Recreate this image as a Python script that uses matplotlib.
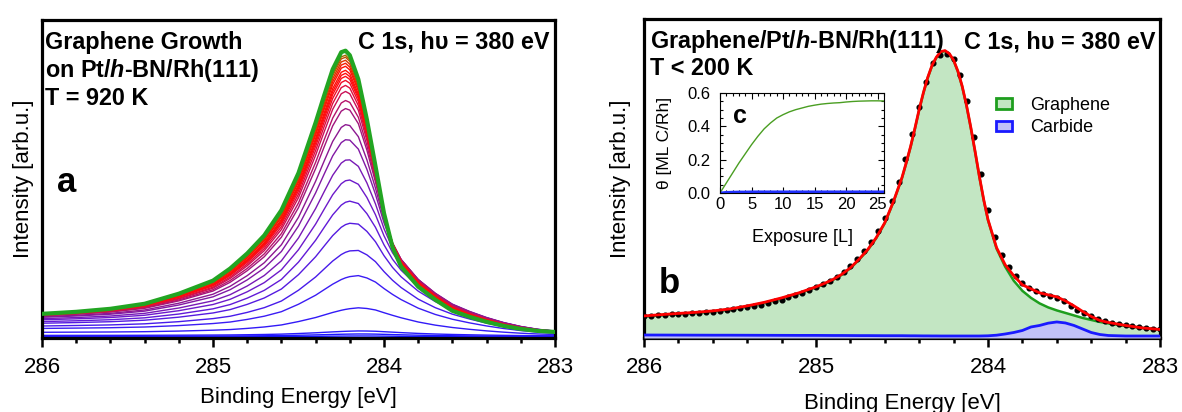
import numpy as np
import matplotlib
matplotlib.use('Agg')
import matplotlib.pyplot as plt
from matplotlib.colors import LinearSegmentedColormap
from matplotlib.patches import Patch
from matplotlib.ticker import MultipleLocator, FormatStrFormatter

plt.rcParams['font.family'] = ['Liberation Sans', 'DejaVu Sans']
plt.rcParams['mathtext.fontset'] = 'custom'
plt.rcParams['mathtext.rm'] = 'Liberation Sans'
plt.rcParams['mathtext.it'] = 'Liberation Sans:italic'
plt.rcParams['mathtext.bf'] = 'Liberation Sans:bold'
plt.rcParams['mathtext.bfit'] = 'Liberation Sans:bold:italic'

# ---------------- Panel a data (growth series) ----------------
energy_a = [286.0, 285.8, 285.6, 285.4, 285.2, 285.0, 284.9, 284.8, 284.7, 284.6,
            284.5, 284.4, 284.35, 284.3, 284.25, 284.225, 284.2, 284.15, 284.1, 284.05,
            284.0, 283.95, 283.9, 283.8, 283.7, 283.6, 283.5, 283.4, 283.3, 283.2,
            283.1, 283.0]
# final (saturated) spectrum, green
final_spectrum = [24, 26, 29, 34, 44, 57, 69, 84, 102, 127,
                  164, 214, 241, 267, 284, 285.5, 281, 257, 217, 171,
                  124, 90, 71, 51, 38, 27, 21, 16, 12, 9,
                  7, 6]
# normalized line shape of the early (low coverage) spectra
early_shape = [0.12, 0.125, 0.13, 0.14, 0.16, 0.19, 0.21, 0.25, 0.30, 0.37,
               0.49, 0.63, 0.72, 0.81, 0.89, 0.925, 0.955, 1.0, 0.99, 0.95,
               0.86, 0.77, 0.68, 0.52, 0.40, 0.31, 0.24, 0.18, 0.13, 0.09,
               0.06, 0.04]
# peak heights and flat background of the intermediate spectra (bottom -> top)
peak_heights = [2, 4, 7, 30, 62, 87, 114, 136, 157, 177, 197, 212, 228,
                236, 245, 251, 256, 260, 263, 266, 270, 273, 276, 279, 281]
backgrounds = [1.0, 1.5, 2.0, 2.5, 3.0, 3.0, 3.5, 3.5, 4.0, 4.0, 4.5, 4.5, 5.0,
               5.0, 5.0, 5.0, 5.5, 5.5, 5.5, 5.5, 6.0, 6.0, 6.0, 6.0, 6.0]

# ---------------- Panel b data (fit) ----------------
energy_fit = [286.0, 285.9, 285.8, 285.7, 285.6, 285.5, 285.4, 285.3, 285.2, 285.1,
              285.0, 284.95, 284.9, 284.85, 284.8, 284.75, 284.7, 284.65, 284.6, 284.55,
              284.5, 284.475, 284.45, 284.425, 284.4, 284.375, 284.35, 284.325, 284.3, 284.275,
              284.25, 284.225, 284.2, 284.175, 284.15, 284.125, 284.1, 284.075, 284.05, 284.025,
              284.0, 283.95, 283.9, 283.85, 283.8, 283.75, 283.7, 283.65, 283.6, 283.55,
              283.5, 283.45, 283.4, 283.35, 283.3, 283.2, 283.1, 283.0]
fit_total = [22, 23.3, 24.5, 25.6, 27.0, 29.0, 32.0, 35.6, 40.0, 45.0,
             51.0, 54.5, 58.5, 63.5, 70, 78.5, 88, 100, 115, 136,
             160, 175, 191, 209, 228, 245, 260, 272, 280, 285.5,
             286.5, 283.5, 277, 266, 251, 232, 210, 186, 161, 138,
             118, 90, 73, 62, 53, 49, 45, 43, 41, 37,
             32, 26.5, 21.5, 17.5, 15.5, 12.5, 10, 8.5]
fit_graphene = [21.5, 22.8, 24.0, 25.1, 26.5, 28.5, 31.5, 35.1, 39.5, 44.5,
                50.5, 54.0, 58.0, 63.0, 69.5, 78.0, 87.5, 99.5, 114.5, 135.5,
                159.5, 174.5, 190.5, 208.5, 227.5, 244.5, 259.5, 271.5, 279.5, 285,
                286, 283, 276.5, 265.5, 250.5, 231.5, 209.5, 185.5, 160.5, 137.5,
                117.5, 89, 71, 57, 47, 40, 34.5, 30.5, 27.5, 25,
                22.5, 20, 18, 16, 14.5, 12, 10, 8.5]
fit_carbide = [3.0, 2.95, 2.9, 2.85, 2.8, 2.8, 2.75, 2.7, 2.65, 2.6,
               2.6, 2.55, 2.5, 2.5, 2.45, 2.4, 2.4, 2.35, 2.3, 2.3,
               2.3, 2.25, 2.2, 2.2, 2.15, 2.1, 2.1, 2.05, 2.05, 2.0,
               2.0, 2.0, 2.0, 2.0, 2.0, 2.0, 2.0, 2.0, 2.0, 2.1,
               2.2, 2.8, 4.0, 5.5, 7.5, 11, 12.5, 14.8, 16, 15,
               12.5, 9, 5.5, 3.5, 2.5, 2.0, 2.0, 2.0]
energy_data = [286.00, 285.96, 285.92, 285.88, 285.84, 285.80, 285.76, 285.72, 285.68, 285.64,
               285.60, 285.56, 285.52, 285.48, 285.44, 285.40, 285.36, 285.32, 285.28, 285.24,
               285.20, 285.16, 285.12, 285.08, 285.04, 285.00, 284.96, 284.92, 284.88, 284.84,
               284.80, 284.76, 284.72, 284.68, 284.64, 284.60, 284.56, 284.52, 284.48, 284.44,
               284.40, 284.36, 284.32, 284.28, 284.24, 284.20, 284.16, 284.12, 284.08, 284.04,
               284.00, 283.96, 283.92, 283.88, 283.84, 283.80, 283.76, 283.72, 283.68, 283.64,
               283.60, 283.56, 283.52, 283.48, 283.44, 283.40, 283.36, 283.32, 283.28, 283.24,
               283.20, 283.16, 283.12, 283.08, 283.04, 283.00]
intensity_data = [21.5, 22.0, 22.5, 23.4, 23.5, 24.0, 24.2, 24.8, 25.0, 25.6,
                  26.2, 26.8, 27.6, 28.5, 29.5, 30.6, 31.8, 33.2, 34.6, 36.4,
                  38.2, 40.4, 42.6, 45.0, 47.6, 50.4, 53.5, 57.0, 61.0, 66.0,
                  72.0, 79, 87, 96, 107, 120, 137, 156, 178, 203,
                  230, 255, 274, 282, 283, 278, 262, 236, 200, 163,
                  128, 101, 83, 71, 62, 55, 50, 46.5, 44, 42,
                  39.5, 36.5, 32, 28, 24.5, 21.5, 19, 16.8, 15, 13.8,
                  12.5, 11.5, 10.5, 9.8, 9.2, 8.8]

# ---------------- Panel c data (coverage vs exposure) ----------------
exposure = [0, 1, 2, 3, 4, 5, 6, 7, 8, 9, 10, 11, 12, 13, 14, 15, 16, 17, 18,
            19, 20, 21, 22, 23, 24, 25, 26]
theta_graphene = [0.0, 0.06, 0.12, 0.18, 0.235, 0.29, 0.34, 0.385, 0.42, 0.45,
                  0.47, 0.487, 0.50, 0.51, 0.52, 0.527, 0.533, 0.537, 0.54, 0.542,
                  0.546, 0.549, 0.551, 0.552, 0.553, 0.553, 0.552]
theta_carbide = [0.0, 0.004, 0.005, 0.006, 0.006, 0.007, 0.007, 0.007, 0.007, 0.007,
                 0.007, 0.007, 0.007, 0.007, 0.007, 0.007, 0.007, 0.007, 0.007, 0.007,
                 0.007, 0.007, 0.007, 0.007, 0.007, 0.007, 0.007]

x_ticks = [286, 285, 284, 283]

# ---------------- Figure ----------------
W, H = 1182, 412
fig = plt.figure(figsize=(W / 100, H / 100), dpi=100)


def px_box(l, t, r, b):
    return [l / W, 1 - b / H, (r - l) / W, (b - t) / H]


def ftext(x, y, s, **kw):
    fig.text(x / W, 1 - y / H, s, **kw)


def style_main(ax, ymax, labelpad):
    ax.set_xlim(286, 283)
    ax.set_ylim(0, ymax)
    ax.set_xticks(x_ticks)
    ax.set_xticklabels([str(t) for t in x_ticks])
    ax.xaxis.set_minor_locator(MultipleLocator(0.2))
    ax.set_yticks([])
    for s in ax.spines.values():
        s.set_linewidth(2.3)
    ax.tick_params(axis='x', which='major', direction='out', length=6.8, width=1.8,
                   labelsize=16, pad=7)
    ax.tick_params(axis='x', which='minor', direction='out', length=3.6, width=1.8)
    ax.set_xlabel('Binding Energy [eV]', fontsize=16, labelpad=labelpad)
    ax.set_ylabel('Intensity [arb.u.]', fontsize=16)


TFS = 16.8  # title font size

# ---- panel a ----
axa = fig.add_axes(px_box(42, 20, 555, 338))
E = np.array(energy_a)
G = np.array(final_spectrum, dtype=float)
final_shape = (G - G[-1]) / (G.max() - G[-1])
early = np.array(early_shape)
cmap = LinearSegmentedColormap.from_list(
    'growth', [(0.0, '#1414ff'), (0.16, '#3a1cf5'), (0.32, '#6a1ad0'),
               (0.46, '#8c1890'), (0.58, '#c81058'), (0.70, '#ff0a14'),
               (0.86, '#ff1000'), (0.93, '#d83c00'), (1.0, '#a06a00')])
n = len(peak_heights)
for i, (h, b) in enumerate(zip(peak_heights, backgrounds)):
    w = h / G.max()
    shape = (1 - w) * early + w * final_shape
    shape = shape / shape.max()
    axa.plot(E, b + (h - b) * shape, color=cmap(i / (n - 1)), lw=1.0, zorder=2 + i * 0.01)
axa.plot(E, G, color='#22a522', lw=3.0, zorder=3)
style_main(axa, 316, 6.5)
axa.yaxis.set_label_coords(-0.016, 0.5)

ftext(45, 49, 'Graphene Growth', fontsize=TFS, fontweight='bold', va='baseline')
ftext(45, 77, r'on Pt/$\mathbfit{h}$-BN/Rh(111)', fontsize=TFS, fontweight='bold', va='baseline')
ftext(45, 105, 'T = 920 K', fontsize=TFS, fontweight='bold', va='baseline')
ftext(549, 48, 'C 1s, h\u03c5 = 380 eV', fontsize=TFS, fontweight='bold', va='baseline', ha='right')
ftext(57, 192, 'a', fontsize=25, fontweight='bold', va='baseline')

# ---- inset c (drawn beneath panel b so data points overlap its labels) ----
axc = fig.add_axes(px_box(720, 93, 884, 193), zorder=0.5)
axc.plot(exposure, theta_graphene, color='#4a9e22', lw=1.0)
axc.plot(exposure, theta_carbide, color='#2030ff', lw=2.0)
axc.set_xlim(0, 26)
axc.set_ylim(0, 0.6)
axc.xaxis.set_major_locator(MultipleLocator(5))
axc.xaxis.set_minor_locator(MultipleLocator(1))
axc.yaxis.set_major_locator(MultipleLocator(0.2))
axc.yaxis.set_minor_locator(MultipleLocator(0.05))
axc.yaxis.set_major_formatter(FormatStrFormatter('%.1f'))
axc.tick_params(which='both', direction='in', top=True, right=True, width=0.8)
axc.tick_params(which='major', length=4, labelsize=12)
axc.tick_params(axis='y', which='major', pad=7)
axc.tick_params(axis='x', which='major', pad=3)
axc.tick_params(which='minor', length=2)
for s in axc.spines.values():
    s.set_linewidth(0.8)
axc.set_xlabel('Exposure [L]', fontsize=13, labelpad=12)
axc.set_ylabel('\u03b8 [ML C/Rh]', fontsize=12.5)
axc.yaxis.set_label_coords(-0.29, 0.5)
axc.text(0.08, 0.70, 'c', transform=axc.transAxes, fontsize=18, fontweight='bold')

# ---- panel b ----
axb = fig.add_axes(px_box(644, 19, 1160, 338), zorder=1)
axb.patch.set_alpha(0)
Ef = np.array(energy_fit)
axb.fill_between(Ef, 0, fit_graphene, color='#c3e6c3', lw=0, zorder=1)
axb.plot(Ef, fit_graphene, color='#1e9e1e', lw=1.8, zorder=2)
axb.fill_between(Ef, 0, fit_carbide, color='#c2c2f7', lw=0, zorder=3)
axb.plot(Ef, fit_carbide, color='#1a1aff', lw=2.0, zorder=4)
axb.plot(energy_data, intensity_data, 'o', color='black', ms=3.4, zorder=5)
axb.plot(Ef, fit_total, color='#ff0000', lw=2.0, zorder=6)
style_main(axb, 318, 11)
axb.yaxis.set_label_coords(-0.026, 0.5)

handles = [Patch(facecolor='#c3e6c3', edgecolor='#1e9e1e', lw=2, label='Graphene'),
           Patch(facecolor='#c2c2f7', edgecolor='#1a1aff', lw=2, label='Carbide')]
axb.legend(handles=handles, loc='upper left', bbox_to_anchor=(996 / W, 1 - 97 / H),
           bbox_transform=fig.transFigure, frameon=False, fontsize=13,
           handlelength=0.9, handleheight=0.55, handletextpad=1.0,
           labelspacing=0.3, borderpad=0, borderaxespad=0)

ftext(650, 48, r'Graphene/Pt/$\mathbfit{h}$-BN/Rh(111)', fontsize=TFS, fontweight='bold', va='baseline')
ftext(650, 75, 'T < 200 K', fontsize=TFS, fontweight='bold', va='baseline')
ftext(1156, 48, 'C 1s, h\u03c5 = 380 eV', fontsize=TFS, fontweight='bold', va='baseline', ha='right')
ftext(659, 293, 'b', fontsize=25, fontweight='bold', va='baseline')

fig.savefig('out.png', dpi=100)
